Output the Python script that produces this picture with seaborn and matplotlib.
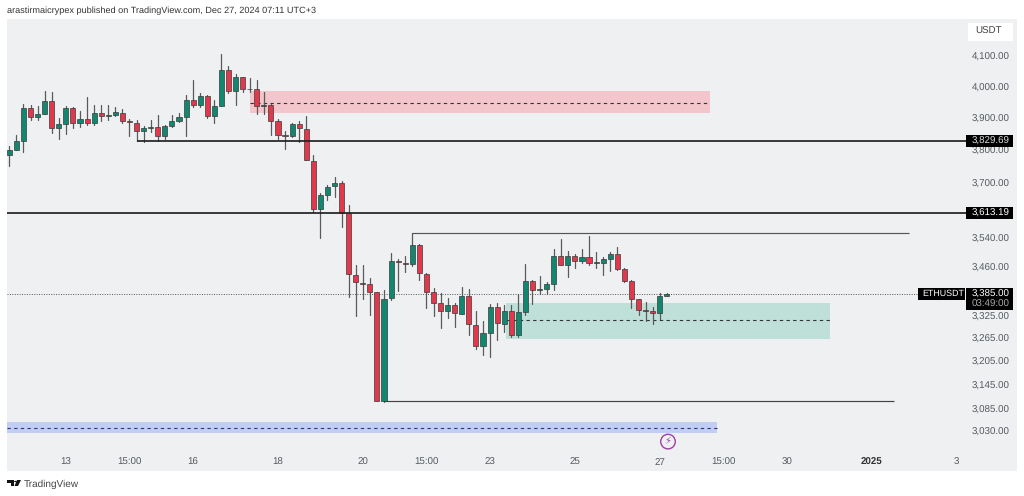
import pandas as pd
import seaborn as sns
import matplotlib.pyplot as plt
from matplotlib.patches import Rectangle, Polygon, Circle
from matplotlib.ticker import NullLocator

opens = [3787,3803,3830,3934,3905,3913,3956,3871,3882,3932,3885,3899,3886,3916,3907,3911,3918,3893,3887,3859,3871,3873,3844,3877,3893,3904,3957,3943,3972,3909,3939,4054,3986,4033,3995,3995,3939,3942,3892,3847,3844,3882,3868,3769,3626,3667,3692,
         3703,3612,3438,3415,3412,3389,3104,3374,3477,3470,3467,3522,3440,3389,3359,3338,3354,3331,3379,3301,3246,3280,3350,
         3304,3338,3275,3336,3421,3396,3399,3413,3491,3465,3491,3477,3487,3470,3471,3480,3495,3454,3420,3370,3342,3337,3334,3380]
highs = [3813,3847,3946,3943,3938,3987,3984,3900,3939,3936,3922,3967,3944,3943,3943,3935,3931,3897,3894,3877,3894,3910,3879,3910,3918,3973,4024,3982,3975,3959,4107,4070,4041,4034,4030,4024,3984,3946,3899,3862,3887,3891,3907,3786,3672,3697,3720,
         3707,3636,3464,3464,3429,3389,3395,3497,3480,3490,3554,3523,3441,3401,3386,3373,3360,3403,3398,3338,3310,3356,3361,
         3354,3354,3384,3466,3424,3433,3418,3509,3539,3505,3495,3509,3547,3500,3486,3500,3514,3456,3423,3372,3363,3348,3386,3386]
lows = [3754,3803,3796,3894,3894,3913,3855,3836,3852,3871,3872,3879,3879,3891,3894,3907,3886,3845,3828,3825,3858,3831,3837,3872,3890,3844,3936,3936,3901,3884,3939,3981,3942,3984,3984,3915,3915,3847,3835,3804,3842,3826,3770,3616,3541,3652,3661,
        3573,3375,3326,3370,3328,3104,3102,3368,3393,3445,3461,3424,3347,3326,3293,3319,3295,3331,3274,3238,3221,3216,3261,
        3283,3268,3270,3327,3357,3384,3384,3395,3464,3431,3456,3469,3465,3456,3438,3449,3450,3418,3347,3327,3312,3304,3316,3379]
closes = [3803,3829,3934,3905,3913,3956,3871,3882,3932,3885,3899,3886,3916,3906,3910,3919,3893,3889,3859,3870,3873,3844,3876,3893,3903,3957,3943,3972,3909,3939,4054,3986,4033,3995,3994,3939,3942,3893,3849,3846,3882,3869,3770,3626,3667,3691,3702,
          3614,3439,3416,3413,3389,3104,3372,3477,3472,3467,3522,3441,3390,3359,3338,3354,3332,3379,3302,3246,3279,3350,3305,
          3338,3275,3336,3421,3395,3399,3413,3491,3465,3491,3477,3488,3469,3472,3480,3495,3454,3421,3371,3342,3339,3334,3378,3385]

price_ticks = [4100, 4000, 3900, 3800, 3700, 3540, 3460, 3325, 3265, 3205, 3145, 3085, 3030]
price_labels = ["4,100.00", "4,000.00", "3,900.00", "3,800.00", "3,700.00", "3,540.00", "3,460.00",
                "3,325.00", "3,265.00", "3,205.00", "3,145.00", "3,085.00", "3,030.00"]
time_ticks = [8, 17, 26, 38, 50, 59, 68, 80, 92, 101, 110, 122, 134]
time_labels = ["13", "15:00", "16", "18", "20", "15:00", "23", "25", "27", "15:00", "30", "2025", "3"]

level_major = [3829.69, 3613.19]
last_price = 3385
swing_high = 3555
swing_low = 3104
red_zone = [3916, 3950, 3986]
green_zone = [3264, 3313, 3360]
blue_zone = [3025, 3038, 3051]

UP = "#12876f"
DOWN = "#e3384c"
EDGE = "#3a3a3a"
WICK = "#5a5a5a"
TXT = "#555a60"
W, H = 1024, 496

sns.set_theme(style="white")
plt.rcParams["font.family"] = ["Liberation Sans", "DejaVu Sans"]
plt.rcParams["text.hinting"] = "none"

df = pd.DataFrame({"open": opens, "high": highs, "low": lows, "close": closes})
df["i"] = range(len(df))
df["bottom"] = df[["open", "close"]].min(axis=1)
df["size"] = (df["open"] - df["close"]).abs()
wicks = pd.concat([df[["i", "high"]].rename(columns={"high": "price"}),
                   df[["i", "low"]].rename(columns={"low": "price"})]).sort_values("i")
up = df[df["close"] >= df["open"]]
down = df[df["close"] < df["open"]]

fig = plt.figure(figsize=(W / 100, H / 100), dpi=100)
ax = fig.add_axes([7 / W, 1 - 471 / H, 1010 / W, 452 / H])
ax.set_facecolor("#eff0f2")


def xp(px):
    # candle index at a pixel column
    return (px - 9.3) / 7.07


def zone(vals, x0, x1, fill, dash):
    ax.fill_between([xp(x0), xp(x1)], vals[0], vals[2], color=fill, lw=0, zorder=0.5)
    ax.plot([xp(x0), xp(x1)], [vals[1], vals[1]], color=dash, lw=0.8, dashes=(3, 3), zorder=0.6)


sns.lineplot(data=wicks, x="i", y="price", units="i", estimator=None, color=WICK, lw=0.9, ax=ax, zorder=2)
for part, col in [(up, UP), (down, DOWN)]:
    sns.barplot(data=part, x="i", y="size", bottom=part["bottom"], native_scale=True, width=0.72,
                color=col, saturation=1, edgecolor=EDGE, linewidth=0.5, errorbar=None, ax=ax, zorder=3)

ax.set_yscale("log")
ax.set_ylim(2933.5, 4226)
ax.set_xlim(xp(7), xp(1017))

zone(red_zone, 250, 710, "#f3c6cb", "#333333")
zone(green_zone, 506, 830, "#bfe0d8", "#333333")
zone(blue_zone, 7, 717, "#c2cdf3", "#2d3a78")

ax.hlines(level_major[0], xp(136.5), xp(966), color="#222222", lw=1.25, zorder=4)
ax.hlines(level_major[1], xp(7), xp(966), color="#222222", lw=1.25, zorder=4)
ax.hlines(swing_high, 57, xp(909), color="#555555", lw=0.85, zorder=1.5)
ax.hlines(swing_low, 53, xp(894), color="#444444", lw=0.85, zorder=1.5)
ax.hlines(last_price, xp(7), xp(918), color="#555555", lw=0.7, linestyles=(0, (1, 1.5)), zorder=1.5)

ax.set_xlabel("")
ax.set_ylabel("")
ax.yaxis.tick_right()
ax.yaxis.set_minor_locator(NullLocator())
ax.set_yticks(price_ticks, price_labels)
ax.set_xticks(time_ticks, time_labels)
ax.tick_params(axis="y", length=0, pad=-32.4, labelsize=7, labelcolor=TXT)
ax.tick_params(axis="x", length=0, pad=-9.5, labelsize=7, labelcolor=TXT)
ax.get_xticklabels()[11].set_fontweight("bold")
ax.get_xticklabels()[11].set_color("#333333")
sns.despine(ax=ax, left=True, bottom=True, right=True, top=True)


def tag(x0, y0, x1, y1, col="black"):
    fig.add_artist(Rectangle((x0 / W, 1 - y1 / H), (x1 - x0) / W, (y1 - y0) / H, transform=fig.transFigure,
                             color=col, lw=0, zorder=5))


def label(x, y, s, col="white", ha="left", size=7, **kw):
    fig.text(x / W, 1 - y / H, s, color=col, ha=ha, va="center", fontsize=size, zorder=6, **kw)


def shape(pts, col="#111111"):
    fig.add_artist(Polygon([(x / W, 1 - y / H) for x, y in pts], transform=fig.transFigure, color=col, lw=0, zorder=6))


tag(968, 23, 1013, 41, "white")
label(975, 31.5, "USDT", "#444444")
tag(966, 135, 1013, 147)
label(972, 141, "3,829.69", "#dddddd")
tag(966, 207, 1013, 219)
label(972, 213, "3,613.19", "white")
tag(918, 288, 965, 299.5)
label(922, 294, "ETHUSDT", "white", size=6.4)
tag(966, 288, 1013, 310)
label(972, 294, "3,385.00", "white")
label(972, 304, "03:49:00", "#aaaaaa")

ax.scatter([xp(668)], [3004], s=110, facecolor="none", edgecolor="#9c3fa8", lw=1.0, zorder=5)
ax.text(xp(668), 3004, "\u26a1", color="#9c3fa8", fontsize=7, ha="center", va="center",
        family="DejaVu Sans", zorder=6)

label(7, 11, "arastirmaicrypex published on TradingView.com, Dec 27, 2024 07:11 UTC+3", "#333333", size=6.55)

# TradingView logo
shape([(7, 480), (14, 480), (14, 486), (11, 486), (11, 483), (7, 483)])
fig.add_artist(Circle((15.5 / W, 1 - 481.5 / H), 1.4 / W, transform=fig.transFigure, color="#111111", lw=0, zorder=6))
shape([(17, 480), (21, 480), (18, 486), (14.5, 486)])
label(24, 484, "TradingView", "#444444", size=7.2)

fig.savefig("out.png", dpi=100)
